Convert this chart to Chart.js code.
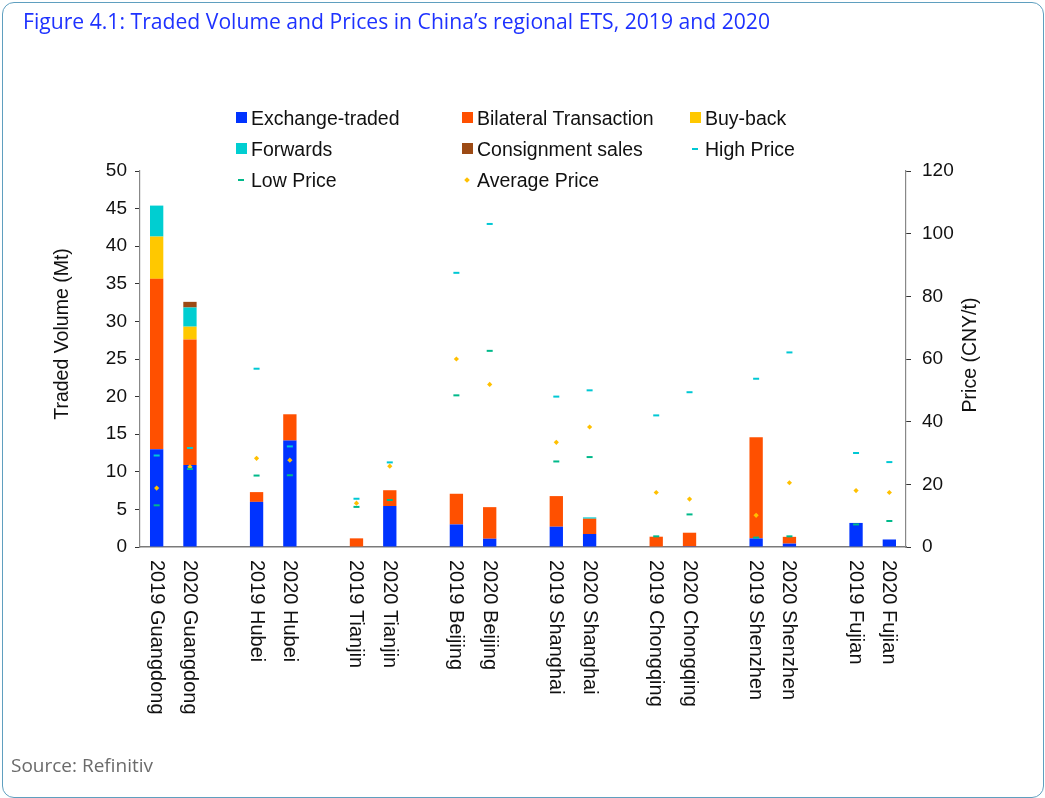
<!DOCTYPE html>
<html>
<head>
<meta charset="utf-8">
<script src="https://cdn.jsdelivr.net/npm/chart.js@4.4.1/dist/chart.umd.min.js"></script>
<style>
html,body{margin:0;padding:0;background:#fff;}
#wrap{position:relative;width:1045px;height:798px;overflow:hidden;background:#fff;}
#frame{position:absolute;left:2px;top:2px;width:1042px;height:796px;box-sizing:border-box;border:1.5px solid #5f9fbf;border-radius:12px;pointer-events:none;}
#chart{position:absolute;left:0;top:0;}
.txt{position:absolute;white-space:nowrap;transform-origin:0 0;}
#title{left:22.5px;top:10.6px;font-family:"Open Sans";font-size:21px;line-height:21px;color:#1e32ff;}
#source{left:10.5px;top:757px;font-family:"Open Sans";font-size:17.5px;line-height:17.5px;color:#6b6b6b;}
.leg{position:absolute;font-family:"Liberation Sans",Arial,sans-serif;font-size:19.5px;line-height:20px;color:#111;white-space:nowrap;}
.box{position:absolute;width:11px;height:11px;}
.dash{position:absolute;width:6px;height:2px;}
.dot{position:absolute;width:4px;height:4px;transform:rotate(45deg);}
.axt{position:absolute;font-family:"Liberation Sans",Arial,sans-serif;font-size:19.5px;line-height:19.5px;color:#111;white-space:nowrap;transform:translate(-50%,-50%) rotate(-90deg);}
</style>
</head>
<body>
<div id="wrap">
<canvas id="chart" width="1045" height="798"></canvas>
<div id="frame"></div>
<span id="title" class="txt">Figure 4.1: Traded Volume and Prices in China’s regional ETS, 2019 and 2020</span>
<span id="source" class="txt">Source: Refinitiv</span>
<div id="legend"></div>
<div class="axt" style="left:62px;top:334px;">Traded Volume (Mt)</div>
<div class="axt" style="left:970px;top:355px;">Price (CNY/t)</div>
</div>
<script>
// ---- data ----
const categories = ['2019 Guangdong','2020 Guangdong','','2019 Hubei','2020 Hubei','','2019 Tianjin','2020 Tianjin','','2019 Beijing','2020 Beijing','','2019 Shanghai','2020 Shanghai','','2019 Chongqing','2020 Chongqing','','2019 Shenzhen','2020 Shenzhen','','2019 Fujian','2020 Fujian'];
const exchangeTraded = [13.0, 10.9, null, 6.0, 14.15, null, 0, 5.45, null, 3.0, 1.1, null, 2.7, 1.73, null, 0, 0.1, null, 1.15, 0.45, null, 3.2, 1.0];
const bilateral = [22.66, 16.7, null, 1.3, 3.5, null, 1.15, 2.1, null, 4.08, 4.2, null, 4.07, 2.03, null, 1.37, 1.8, null, 13.45, 0.9, null, 0, 0];
const buyBack = [5.62, 1.7, null, 0, 0, null, 0, 0, null, 0, 0, null, 0, 0, null, 0, 0, null, 0, 0, null, 0, 0];
const forwards = [4.12, 2.55, null, 0, 0, null, 0, 0, null, 0, 0, null, 0, 0.18, null, 0, 0, null, 0, 0, null, 0, 0];
const consignment = [0, 0.75, null, 0, 0, null, 0, 0, null, 0, 0, null, 0, 0, null, 0, 0, null, 0, 0, null, 0, 0];
const highPrice = [29.2, 31.6, null, 56.9, 32.1, null, 15.4, 27.0, null, 87.5, 103.1, null, 48.0, 50.0, null, 42.0, 49.4, null, 53.7, 62.1, null, 30.0, 27.1];
const lowPrice = [13.3, 24.9, null, 22.8, 22.9, null, 12.8, 15.0, null, 48.4, 62.6, null, 27.3, 28.7, null, 3.4, 10.4, null, 3.0, 3.4, null, 7.2, 8.3];
const avgPrice = [18.8, 25.6, null, 28.3, 27.7, null, 14.0, 25.8, null, 60.0, 51.9, null, 33.4, 38.3, null, 17.4, 15.3, null, 10.1, 20.5, null, 18.0, 17.4];
const volumeTicks = {min: 0, max: 50, step: 5};
const priceTicks = {min: 0, max: 120, step: 20};

const COL = {blue:'#0033ff', orange:'#ff5000', yellow:'#ffc800', cyan:'#00ced1', brown:'#9c4a14', high:'#00c8d4', low:'#00b98a', avg:'#ffc000'};

// ---- title / source width fit ----
function fit(id, w){ const el=document.getElementById(id); const cw=el.getBoundingClientRect().width; el.style.transform='scaleX('+(w/cw)+')'; }
fit('title', 747);
fit('source', 142);

// ---- legend ----
const legendItems = [
  {t:'Exchange-traded', k:'box', c:COL.blue, col:0, row:0},
  {t:'Bilateral Transaction', k:'box', c:COL.orange, col:1, row:0},
  {t:'Buy-back', k:'box', c:COL.yellow, col:2, row:0},
  {t:'Forwards', k:'box', c:COL.cyan, col:0, row:1},
  {t:'Consignment sales', k:'box', c:COL.brown, col:1, row:1},
  {t:'High Price', k:'dash', c:COL.high, col:2, row:1},
  {t:'Low Price', k:'dash', c:COL.low, col:0, row:2},
  {t:'Average Price', k:'dot', c:COL.avg, col:1, row:2}
];
const colX = [236, 462, 690], textX = [251, 477, 705], rowC = [117.3, 148.6, 180];
const lg = document.getElementById('legend');
legendItems.forEach(it=>{
  const m=document.createElement('div');
  m.className=it.k; m.style.background=it.c;
  const cy=rowC[it.row];
  if(it.k==='box'){ m.style.left=colX[it.col]+'px'; m.style.top=(cy-5.5)+'px'; }
  else if(it.k==='dash'){ m.style.left=(colX[it.col]+2)+'px'; m.style.top=(cy-1)+'px'; }
  else { m.style.left=(colX[it.col]+3)+'px'; m.style.top=(cy-2)+'px'; }
  lg.appendChild(m);
  const t=document.createElement('div');
  t.className='leg'; t.textContent=it.t;
  t.style.left=textX[it.col]+'px'; t.style.top=(cy-9.8)+'px';
  lg.appendChild(t);
});

// ---- x labels drawn rotated top-to-bottom ----
const xLabelPlugin = {
  id:'xLabels',
  afterDraw(chart){
    const ctx=chart.ctx, xs=chart.scales.x;
    ctx.save();
    ctx.font='20px "Liberation Sans", Arial, sans-serif';
    ctx.fillStyle='#111';
    ctx.textAlign='left';
    ctx.textBaseline='middle';
    categories.forEach((lab,i)=>{
      if(!lab) return;
      const x=xs.getPixelForValue(i);
      ctx.save();
      ctx.translate(x-0.5, chart.chartArea.bottom+13);
      ctx.rotate(Math.PI/2);
      ctx.fillText(lab,0,0);
      ctx.restore();
    });
    ctx.restore();
  }
};

const tickFont = {family:'"Liberation Sans", Arial, sans-serif', size:19};
function bar(label,data,color){ return {type:'bar',label,data,backgroundColor:color,borderWidth:0,yAxisID:'y',stack:'vol',order:1,barPercentage:0.4,categoryPercentage:1.0}; }
function pts(label,data,color,style,r,bw){ return {type:'line',label,data,yAxisID:'y2',showLine:false,order:0,pointStyle:style,pointRadius:r,pointBorderWidth:bw,pointBackgroundColor:color,pointBorderColor:color,pointHoverRadius:r}; }

new Chart(document.getElementById('chart'), {
  data:{
    labels: categories,
    datasets:[
      bar('Exchange-traded', exchangeTraded, COL.blue),
      bar('Bilateral Transaction', bilateral, COL.orange),
      bar('Buy-back', buyBack, COL.yellow),
      bar('Forwards', forwards, COL.cyan),
      bar('Consignment sales', consignment, COL.brown),
      pts('High Price', highPrice, COL.high, 'line', 3, 2),
      pts('Low Price', lowPrice, COL.low, 'line', 3, 2),
      pts('Average Price', avgPrice, COL.avg, 'rectRot', 2.6, 0)
    ]
  },
  options:{
    responsive:false, animation:false, events:[],
    layout:{padding:{top:171,left:0,right:0,bottom:0}},
    plugins:{legend:{display:false}, tooltip:{enabled:false}, title:{display:false}},
    scales:{
      x:{stacked:true, grid:{display:false}, border:{display:true,color:'#7a7a7a',width:1.5}, ticks:{display:false}, afterFit(s){ s.height=251; }},
      y:{position:'left', stacked:true, min:volumeTicks.min, max:volumeTicks.max,
         ticks:{stepSize:volumeTicks.step, font:tickFont, color:'#111', padding:8},
         grid:{drawOnChartArea:false, drawTicks:true, tickLength:5, color:'#333'},
         border:{display:true,color:'#888',width:1.2},
         afterFit(s){ s.width=140; }},
      y2:{position:'right', min:priceTicks.min, max:priceTicks.max,
         ticks:{stepSize:priceTicks.step, font:tickFont, color:'#111', padding:11},
         grid:{drawOnChartArea:false, drawTicks:true, tickLength:5, color:'#333'},
         border:{display:true,color:'#888',width:1.2},
         afterFit(s){ s.width=139; }}
    }
  },
  plugins:[xLabelPlugin]
});
</script>
</body>
</html>
